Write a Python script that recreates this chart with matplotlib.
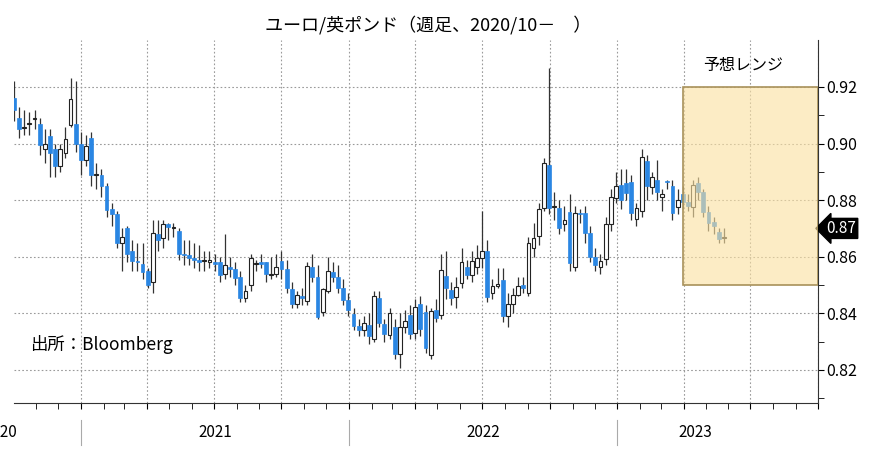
import numpy as np
import pandas as pd
import matplotlib.pyplot as plt
import matplotlib.dates as mdates
from matplotlib.patches import Rectangle
from matplotlib.transforms import blended_transform_factory

plt.rcParams["font.family"] = ["Noto Sans CJK JP", "DejaVu Sans"]

dates = pd.date_range("2020-10-02", periods=139, freq="7D")

opens = [0.916, 0.909, 0.9055, 0.907, 0.9085, 0.907, 0.898, 0.9027, 0.898, 0.892,
         0.8967, 0.9066, 0.907, 0.900, 0.894, 0.902, 0.889, 0.889, 0.885, 0.877,
         0.875, 0.865, 0.870, 0.862, 0.8582, 0.8575, 0.855, 0.851, 0.868, 0.8665,
         0.8715, 0.870, 0.869, 0.861, 0.8605, 0.8595, 0.859, 0.8585, 0.858, 0.858,
         0.858, 0.854, 0.8565, 0.8555, 0.853, 0.8455, 0.850, 0.8575, 0.858, 0.858,
         0.8535, 0.854, 0.8585, 0.8555, 0.8485, 0.8433, 0.846, 0.8445, 0.8563, 0.853,
         0.8403, 0.8479, 0.8545, 0.853, 0.8491, 0.8447, 0.8397, 0.8355, 0.8342, 0.8357,
         0.8308, 0.8455, 0.8363, 0.8324, 0.8351, 0.8257, 0.8353, 0.8394, 0.8331, 0.8433,
         0.8405, 0.8253, 0.8413, 0.8394, 0.8533, 0.8481, 0.8456, 0.8507, 0.8565, 0.8536,
         0.8563, 0.8594, 0.862, 0.8472, 0.8495, 0.8518, 0.8391, 0.8433, 0.8464, 0.850,
         0.8472, 0.8631, 0.8673, 0.8772, 0.8925, 0.8775, 0.8772, 0.8715, 0.8758, 0.8564,
         0.8755, 0.8755, 0.8684, 0.860, 0.8565, 0.8591, 0.8717, 0.8808, 0.8854, 0.8859,
         0.8864, 0.8733, 0.8762, 0.8938, 0.8847, 0.8871, 0.881, 0.8866, 0.885, 0.8775,
         0.882, 0.8795, 0.8777, 0.8859, 0.883, 0.8758, 0.8723, 0.8689, 0.8665]

closes = [0.912, 0.905, 0.906, 0.907, 0.909, 0.8995, 0.900, 0.8967, 0.892, 0.898,
          0.9017, 0.9157, 0.900, 0.894, 0.899, 0.889, 0.889, 0.885, 0.8765, 0.875,
          0.865, 0.867, 0.861, 0.8585, 0.858, 0.8545, 0.850, 0.8685, 0.866, 0.8715,
          0.8705, 0.8702, 0.861, 0.8605, 0.8595, 0.859, 0.858, 0.8587, 0.859, 0.8575,
          0.8535, 0.857, 0.8555, 0.8525, 0.8455, 0.848, 0.8595, 0.8577, 0.8575, 0.854,
          0.8537, 0.8565, 0.8555, 0.849, 0.8433, 0.8463, 0.8455, 0.8567, 0.853, 0.8388,
          0.8485, 0.855, 0.8527, 0.8489, 0.8447, 0.8412, 0.8355, 0.8342, 0.8366, 0.8318,
          0.8461, 0.8365, 0.8327, 0.840, 0.8256, 0.8353, 0.8372, 0.8327, 0.8422, 0.8345,
          0.8278, 0.8409, 0.8385, 0.8553, 0.849, 0.8454, 0.8492, 0.8582, 0.8536, 0.8584,
          0.8594, 0.862, 0.8458, 0.8497, 0.8504, 0.8391, 0.8433, 0.8464, 0.8495, 0.849,
          0.8649, 0.8666, 0.8769, 0.8931, 0.8773, 0.878, 0.870, 0.873, 0.8578, 0.8755,
          0.8752, 0.8684, 0.860, 0.857, 0.8585, 0.8716, 0.8811, 0.885, 0.880, 0.8825,
          0.8755, 0.8773, 0.8952, 0.885, 0.8882, 0.8829, 0.8823, 0.8864, 0.8755, 0.8802,
          0.8795, 0.878, 0.8854, 0.8829, 0.8758, 0.872, 0.8708, 0.8664, 0.867]

highs = [0.922, 0.913, 0.912, 0.911, 0.912, 0.909, 0.905, 0.905, 0.900, 0.900,
         0.906, 0.923, 0.922, 0.904, 0.903, 0.904, 0.893, 0.891, 0.886, 0.879,
         0.876, 0.870, 0.871, 0.866, 0.865, 0.865, 0.856, 0.873, 0.873, 0.873,
         0.872, 0.872, 0.870, 0.866, 0.866, 0.865, 0.864, 0.862, 0.862, 0.861,
         0.860, 0.868, 0.860, 0.858, 0.855, 0.850, 0.861, 0.859, 0.861, 0.858,
         0.860, 0.861, 0.862, 0.859, 0.851, 0.848, 0.849, 0.858, 0.861, 0.857,
         0.849, 0.860, 0.858, 0.857, 0.852, 0.847, 0.842, 0.838, 0.839, 0.840,
         0.848, 0.848, 0.838, 0.842, 0.838, 0.840, 0.841, 0.843, 0.845, 0.846,
         0.843, 0.842, 0.845, 0.861, 0.862, 0.851, 0.853, 0.863, 0.859, 0.862,
         0.864, 0.876, 0.866, 0.852, 0.856, 0.856, 0.847, 0.849, 0.853, 0.853,
         0.867, 0.872, 0.879, 0.895, 0.9267, 0.883, 0.880, 0.878, 0.882, 0.878,
         0.877, 0.878, 0.871, 0.863, 0.861, 0.874, 0.884, 0.890, 0.891, 0.891,
         0.889, 0.879, 0.898, 0.896, 0.890, 0.894, 0.884, 0.887, 0.887, 0.884,
         0.885, 0.882, 0.887, 0.888, 0.884, 0.878, 0.874, 0.870, 0.870]

lows = [0.908, 0.902, 0.903, 0.903, 0.905, 0.896, 0.893, 0.888, 0.888, 0.890,
        0.895, 0.906, 0.897, 0.889, 0.892, 0.885, 0.884, 0.881, 0.874, 0.871,
        0.863, 0.855, 0.858, 0.855, 0.855, 0.852, 0.849, 0.847, 0.862, 0.863,
        0.866, 0.867, 0.859, 0.857, 0.857, 0.856, 0.855, 0.855, 0.856, 0.855,
        0.851, 0.852, 0.853, 0.850, 0.844, 0.844, 0.848, 0.855, 0.856, 0.851,
        0.852, 0.853, 0.852, 0.847, 0.842, 0.842, 0.843, 0.843, 0.851, 0.838,
        0.839, 0.847, 0.851, 0.847, 0.843, 0.839, 0.834, 0.832, 0.832, 0.829,
        0.830, 0.835, 0.830, 0.831, 0.824, 0.8207, 0.833, 0.831, 0.831, 0.832,
        0.826, 0.824, 0.837, 0.838, 0.845, 0.843, 0.842, 0.849, 0.852, 0.851,
        0.854, 0.856, 0.844, 0.845, 0.849, 0.837, 0.835, 0.840, 0.846, 0.847,
        0.846, 0.860, 0.864, 0.876, 0.875, 0.873, 0.868, 0.869, 0.855, 0.855,
        0.872, 0.865, 0.858, 0.855, 0.854, 0.857, 0.869, 0.879, 0.877, 0.880,
        0.873, 0.871, 0.874, 0.880, 0.882, 0.880, 0.876, 0.884, 0.873, 0.875,
        0.877, 0.876, 0.874, 0.880, 0.874, 0.869, 0.868, 0.865, 0.865]

year_labels = ["2021", "2022", "2023"]
range_low, range_high = 0.85, 0.92
range_start, range_end = "2023-03-31", "2023-10-01"
last_value = 0.87

fig = plt.figure(figsize=(8.73, 4.49), dpi=100)
ax = fig.add_axes([0.016, 0.1025, 0.921, 0.8085])

blue = "#2a86e3"
w = 5.2
for d, o, c, h, l in zip(dates, opens, closes, highs, lows):
    x = mdates.date2num(d)
    ax.vlines(x, l, h, color="#333333", lw=0.9, zorder=2)
    if c >= o:
        ax.add_patch(Rectangle((x - w / 2, o), w, max(c - o, 0.0004),
                               facecolor="white", edgecolor="#222222", lw=0.8, zorder=3))
    else:
        ax.add_patch(Rectangle((x - w / 2, c), w, max(o - c, 0.0004),
                               facecolor=blue, edgecolor=blue, lw=0.5, zorder=3))

# forecast range box drawn over the candles
x0 = mdates.date2num(pd.Timestamp(range_start))
x1 = mdates.date2num(pd.Timestamp(range_end))
ax.add_patch(Rectangle((x0, range_low), x1 - x0, range_high - range_low,
                       facecolor="#fbe1a2", edgecolor="none", alpha=0.62, zorder=4))
ax.add_patch(Rectangle((x0, range_low), x1 - x0, range_high - range_low,
                       facecolor="none", edgecolor="#a8915a", lw=1.2, zorder=5))
ax.text((x0 + x1) / 2 - 10, 0.9275, "予想レンジ", ha="center", va="center", fontsize=11.5)

ax.set_xlim(pd.Timestamp("2020-10-02"), pd.Timestamp("2023-10-01"))
ax.set_ylim(0.8083, 0.9366)

ax.yaxis.tick_right()
ax.set_yticks(np.arange(0.82, 0.921, 0.02))
ax.set_yticklabels([f"{v:.2f}" for v in np.arange(0.82, 0.921, 0.02)], fontsize=11.5)
ax.set_yticks(np.arange(0.81, 0.93, 0.01), minor=True)
ax.tick_params(axis="y", which="both", direction="out", length=4, pad=2)

ax.xaxis.set_major_locator(mdates.MonthLocator(bymonth=[1, 4, 7, 10]))
ax.xaxis.set_minor_locator(mdates.MonthLocator())
ax.xaxis.set_major_formatter(plt.NullFormatter())
ax.tick_params(axis="x", which="both", length=4, direction="out")

ax.grid(True, which="major", color="#9a9a9a", ls=(0, (1.5, 2)), lw=0.8)
ax.set_axisbelow(True)
for s in ["top", "left"]:
    ax.spines[s].set_visible(False)
ax.spines["right"].set_color("#333333")
ax.spines["bottom"].set_color("#333333")

# year labels and separators under the axis
trans = blended_transform_factory(ax.transData, fig.transFigure)
for i, lab in enumerate(year_labels):
    start = pd.Timestamp(f"{lab}-01-01")
    end = pd.Timestamp(f"{int(lab) + 1}-01-01")
    mid = mdates.date2num(start) + (mdates.date2num(end) - mdates.date2num(start)) / 2
    if i == len(year_labels) - 1:
        mid = mdates.date2num(start) + 0.5 * (mdates.date2num(pd.Timestamp("2023-07-31")) - mdates.date2num(start))
    fig.text(mid, 0.037, lab, transform=trans, ha="center", va="center", fontsize=11, clip_on=False)
    fig.add_artist(plt.Line2D([mdates.date2num(start)] * 2, [0.01, 0.065],
                              transform=trans, color="#aaaaaa", lw=0.8))
fig.text(0.0, 0.037, "2020", ha="center", va="center", fontsize=11)

ax.text(0.02, 0.16, "出所：Bloomberg", transform=ax.transAxes, fontsize=12.5, va="center")
fig.suptitle("ユーロ/英ポンド（週足、2020/10－　）", x=0.49, y=0.965, fontsize=13)

ax.annotate(f"{last_value:.2f}", xy=(1.0, last_value), xycoords=("axes fraction", "data"),
            xytext=(6, 0), textcoords="offset points", va="center", ha="left",
            color="white", fontsize=11,
            bbox=dict(boxstyle="larrow,pad=0.1", fc="black", ec="black"))

fig.savefig("out.png", dpi=100)
